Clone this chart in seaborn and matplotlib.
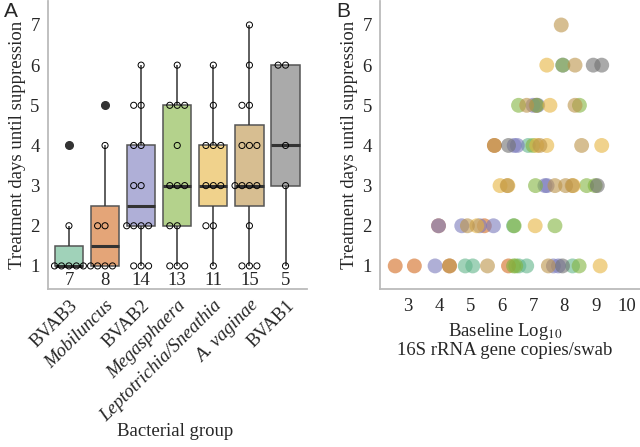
import numpy as np
import pandas as pd
import matplotlib
matplotlib.use('Agg')
import matplotlib.pyplot as plt
import matplotlib.colors as mcolors
import seaborn as sns

# Bacterial groups (order on the x axis of panel A)
groups = ['BVAB3', 'Mobiluncus', 'BVAB2', 'Megasphaera',
          'Leptotrichia/Sneathia', 'A. vaginae', 'BVAB1']
italic_groups = ['Mobiluncus', 'Megasphaera', 'Leptotrichia/Sneathia', 'A. vaginae']

# Treatment days until suppression, per group
bvab3_days = [1, 1, 1, 1, 1, 2, 4]
mobiluncus_days = [1, 1, 1, 1, 2, 2, 4, 5]
bvab2_days = [1, 1, 1, 2, 2, 2, 2, 3, 3, 4, 4, 5, 5, 6]
megasphaera_days = [1, 1, 1, 2, 2, 3, 3, 3, 4, 5, 5, 5, 6]
lepto_days = [1, 2, 2, 3, 3, 3, 4, 4, 4, 5, 6]
avaginae_days = [1, 1, 1, 2, 3, 3, 3, 3, 4, 4, 4, 5, 5, 6, 7]
bvab1_days = [1, 3, 4, 6, 6]

# Baseline log10 16S rRNA gene copies/swab (same order as the days)
bvab3_load = [4.84, 5.08, 6.55, 6.80, 8.26, 6.38, 6.85]
mobiluncus_load = [2.61, 3.22, 4.34, 6.22, 3.99, 5.45, 5.77, 7.10]
bvab2_load = [3.88, 7.65, 7.81, 3.99, 4.73, 5.30, 5.74, 7.38, 7.45, 6.40, 6.50,
              7.00, 7.15, 7.95]
megasphaera_load = [6.38, 6.45, 8.47, 6.40, 7.70, 7.08, 8.71, 8.98, 7.00, 6.54,
                    7.12, 8.48, 7.95]
lepto_load = [9.14, 5.21, 7.07, 5.95, 6.20, 8.28, 7.12, 7.44, 9.19, 7.54, 7.44]
avaginae_load = [4.34, 5.55, 7.49, 4.91, 6.18, 7.70, 8.04, 8.25, 5.77, 7.22, 8.55,
                 6.80, 8.34, 8.34, 7.90]
bvab1_load = [7.94, 9.05, 6.22, 8.92, 9.19]

base_colors = ['#61b48a', '#d2691e', '#7a7abc', '#82b43f', '#e6b43f', '#bc9348', '#717171']

days = [bvab3_days, mobiluncus_days, bvab2_days, megasphaera_days,
        lepto_days, avaginae_days, bvab1_days]
loads = [bvab3_load, mobiluncus_load, bvab2_load, megasphaera_load,
         lepto_load, avaginae_load, bvab1_load]

rows = []
for g, d, l in zip(groups, days, loads):
    for di, li in zip(d, l):
        rows.append({'group': g, 'days': di, 'load': li})
df = pd.DataFrame(rows)


def lighten(c, a=0.6):
    rgb = np.array(mcolors.to_rgb(c))
    return tuple(a * rgb + (1 - a))


box_fill = dict(zip(groups, [lighten(c) for c in base_colors]))
point_colors = dict(zip(groups, base_colors))

sns.set_style('white')
plt.rcParams['font.family'] = ['Liberation Serif', 'DejaVu Serif']
plt.rcParams['mathtext.fontset'] = 'stix'

fs = 13.5
fig = plt.figure(figsize=(6.4, 4.47), dpi=100)
axA = fig.add_axes([0.075, 0.353, 0.405, 0.645])
axB = fig.add_axes([0.594, 0.353, 0.406, 0.645])

# Panel A: boxplots + swarm
sns.boxplot(data=df, x='group', y='days', hue='group', order=groups, hue_order=groups,
            palette=box_fill, legend=False, saturation=1, width=0.78,
            linecolor='#555555', linewidth=1.1, fliersize=5.5,
            flierprops=dict(marker='o', markerfacecolor='#333333',
                            markeredgecolor='#333333'),
            medianprops=dict(color='#333333', linewidth=2.2),
            whiskerprops=dict(color='#333333', linewidth=1.1),
            capprops=dict(linewidth=0), ax=axA)
sns.swarmplot(data=df, x='group', y='days', order=groups, color='white',
              edgecolor='black', linewidth=0.7, size=4.4, ax=axA, zorder=3)
for coll in axA.collections:
    coll.set_facecolor('none')
for line in axA.lines:
    if line.get_linestyle() in ('None', '') and line.get_marker() not in ('None', '', None):
        line.set_zorder(5)

for i, d in enumerate(days):
    axA.text(i, 0.64, str(len(d)), ha='center', va='center', fontsize=fs)

axA.set_xlim(-0.58, 6.6)
axA.set_ylim(0.42, 7.6)
axA.set_yticks(range(1, 8))
axA.set_ylabel('Treatment days until suppression', fontsize=fs, labelpad=3)
axA.set_xlabel('Bacterial group', fontsize=fs)
axA.xaxis.set_label_coords(0.49, -0.465)
axA.set_xticks(range(len(groups)))
axA.set_xticklabels(groups, rotation=45, ha='right', rotation_mode='anchor')
for t in axA.get_xticklabels():
    if t.get_text() in italic_groups:
        t.set_fontstyle('italic')

# Panel B: scatter
sns.scatterplot(data=df, x='load', y='days', hue='group', hue_order=groups,
                palette=point_colors, alpha=0.6, s=115, edgecolor='none',
                legend=False, ax=axB)
axB.set_xlim(2.13, 10.41)
axB.set_ylim(0.42, 7.6)
axB.set_xticks(range(3, 11))
axB.set_yticks(range(1, 8))
axB.set_ylabel('Treatment days until suppression', fontsize=fs, labelpad=3)
axB.set_xlabel('Baseline Log$_{10}$\n16S rRNA gene copies/swab', fontsize=fs,
               linespacing=1.0)
axB.xaxis.set_label_coords(0.48, -0.11)

for ax in (axA, axB):
    sns.despine(ax=ax)
    for s in ('left', 'bottom'):
        ax.spines[s].set_color('#bbbbbb')
        ax.spines[s].set_linewidth(1.3)
    ax.tick_params(axis='both', labelsize=fs, length=4, width=1, color='#444444',
                   direction='out', pad=2)

fig.text(0.006, 0.995, 'A', fontsize=15, va='top', family='Liberation Sans')
fig.text(0.525, 0.995, 'B', fontsize=15, va='top', family='Liberation Sans')

fig.savefig('out.png', dpi=100)
